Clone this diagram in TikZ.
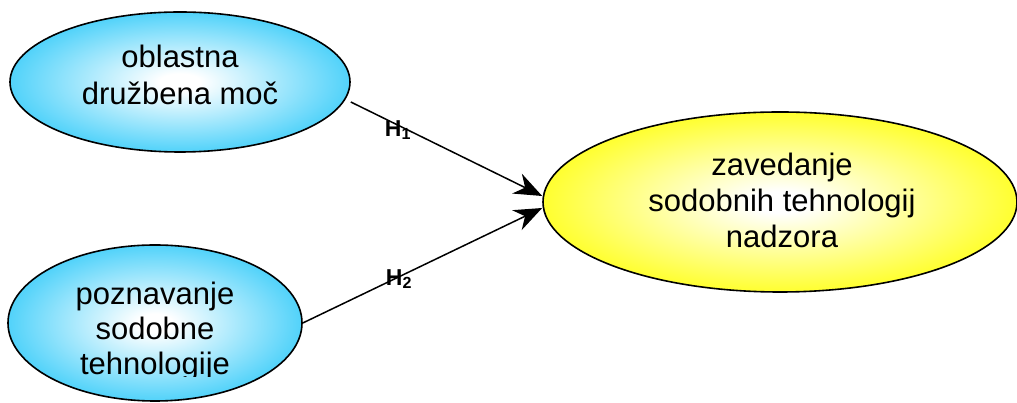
\documentclass[tikz,border=0pt]{standalone}
\usepackage{fontspec}
\setmainfont{Liberation Sans}
\usetikzlibrary{shapes.geometric,arrows.meta}
\definecolor{bluec}{RGB}{18,194,248}
\definecolor{yellowc}{RGB}{255,255,0}
\pgfdeclareradialshading{blueball}{\pgfpoint{0bp}{0bp}}{color(0bp)=(white); color(3bp)=(white); color(33bp)=(bluec); color(50bp)=(bluec)}
\pgfdeclareradialshading{yellowball}{\pgfpoint{0bp}{0bp}}{color(0bp)=(white); color(3bp)=(white); color(30bp)=(yellowc); color(50bp)=(yellowc)}
\tikzset{
  var/.style={ellipse, draw=black, line width=1.6pt, inner sep=0pt},
  bluevar/.style={var, shading=blueball},
  yellowvar/.style={var, shading=yellowball},
  vartext/.style={align=center, inner sep=0pt, font=\fontsize{31}{37}\selectfont},
  hyp/.style={-{Stealth[length=28pt,width=22pt,inset=9pt]}, line width=1.5pt},
  hlabel/.style={font=\fontsize{23}{24}\selectfont\bfseries, inner sep=0pt}
}
\begin{document}
\begin{tikzpicture}[x=1pt,y=1pt]
\useasboundingbox (0,0) rectangle (1017,403);
\node[bluevar, minimum width=340pt, minimum height=140pt] (e1) at (180,321) {};
\node[bluevar, minimum width=294pt, minimum height=156pt] (e2) at (155,80) {};
\node[yellowvar, minimum width=474pt, minimum height=180pt] (e3) at (780,201) {};
\node[vartext] (t1) at (180,328) {oblastna\\družbena moč};
\begin{scope}
  \clip (0,26) rectangle (1017,403);
  \node[vartext, font=\fontsize{31}{35}\selectfont] (t2) at (155,72) {poznavanje\\sodobne\\tehnologije};
\end{scope}
\node[vartext, font=\fontsize{31}{36}\selectfont] (t3) at (782,203) {zavedanje\\sodobnih tehnologij\\nadzora};
\draw[hyp] ([yshift=-20pt]e1.east) -- ([yshift=6pt]e3.west);
\draw[hyp] (e2.east) -- ([yshift=-6pt]e3.west);
\node[hlabel] (h1) at (398,273) {H\textsubscript{1}};
\node[hlabel] (h2) at (399,124) {H\textsubscript{2}};
\end{tikzpicture}
\end{document}
